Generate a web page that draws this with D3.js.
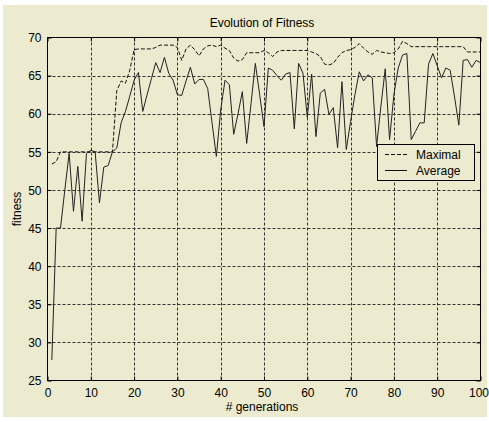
<!DOCTYPE html>
<html>
<head>
<meta charset="utf-8">
<script src="https://cdn.jsdelivr.net/npm/d3@7"></script>
<style>
  body { margin: 0; background: #fff; }
  text { font-family: "Liberation Sans", Arial, sans-serif; fill: #000; }
</style>
</head>
<body>
<svg id="chart" width="489" height="422"></svg>
<script>
// data
const generations = d3.range(1, 101);
const maximal = [
  53.4, 53.7, 55, 55, 55, 55, 55, 55, 55, 55,
  55, 55, 55, 55, 55, 63, 64.3, 64, 65.7, 68.4,
  68.5, 68.5, 68.5, 68.5, 68.7, 69, 69, 69, 69, 68.7,
  67, 68.5, 69, 68.4, 67.6, 68.5, 68.9, 69, 68.8, 69,
  68.6, 68.3, 67.3, 66.9, 67.1, 68, 68, 68, 68, 68.3,
  68, 67.5, 68.1, 68.3, 68.3, 68.3, 68.3, 68.3, 68.3, 68.3,
  68.1, 67.9, 67.5, 66.5, 66.4, 66.6, 67.4, 68, 68.3, 68.4,
  68.7, 69.2, 68.6, 68.1, 67.8, 68.3, 68.1, 68, 67.9, 68,
  68.5, 69.5, 69.2, 68.8, 68.8, 68.8, 68.8, 68.8, 68.8, 68.8,
  68.8, 68.8, 68.8, 68.8, 68.8, 68.8, 68.1, 68.1, 68.1, 68.1
];
const average = [
  27.7, 45, 45, 50, 54.8, 47.2, 53.1, 45.9, 54.8, 55.2,
  55, 48.3, 53, 53.2, 55, 55.5, 58.8, 60.3, 62.3, 64.4,
  65.4, 60.3, 62.5, 64.6, 66.7, 65.4, 67.4, 65.3, 64.4, 62.5,
  62.4, 64.3, 66.1, 63.9, 64.5, 64.5, 63.3, 58.8, 54.4, 60.5,
  64.4, 63.8, 57.3, 60, 62.9, 56.1, 61.3, 66.6, 62.5, 58.3,
  66, 65.7, 65, 64.4, 65.2, 65.4, 58, 66.6, 65.3, 59.5,
  65.2, 57, 62.7, 63.2, 59.9, 60.8, 55.5, 64.2, 55.3, 59,
  62.5, 65.5, 64.3, 65.1, 64.7, 55.7, 61, 65.9, 56.6, 62.5,
  66, 67.7, 67.9, 56.6, 57.7, 58.8, 58.8, 66.5, 67.9, 66.3,
  64.7, 66, 65.7, 62.2, 58.5, 67, 67.1, 66.1, 67, 66.7
];
const xTicks = [0, 10, 20, 30, 40, 50, 60, 70, 80, 90, 100];
const yTicks = [25, 30, 35, 40, 45, 50, 55, 60, 65, 70];
const seriesNames = ["Maximal", "Average"];

const bg = "#ecebcf";
const svg = d3.select("#chart");

// figure background
svg.append("rect").attr("x", 3).attr("y", 5).attr("width", 484).attr("height", 412).attr("fill", bg);

const pLeft = 47.5, pRight = 480.5, pTop = 37.5, pBottom = 380.5;
const x = d3.scaleLinear().domain([0, 100]).range([pLeft, pRight]);
const y = d3.scaleLinear().domain([25, 70]).range([pBottom, pTop]);

// grid
const grid = svg.append("g").attr("stroke", "#333").attr("stroke-width", 1).attr("stroke-dasharray", "3,2");
grid.selectAll(".gx").data(xTicks.slice(1, -1)).join("line")
  .attr("x1", d => Math.round(x(d)) + 0.5).attr("x2", d => Math.round(x(d)) + 0.5)
  .attr("y1", pTop).attr("y2", pBottom);
grid.selectAll(".gy").data(yTicks.slice(1, -1)).join("line")
  .attr("y1", d => Math.round(y(d)) + 0.5).attr("y2", d => Math.round(y(d)) + 0.5)
  .attr("x1", pLeft).attr("x2", pRight);

// axes (ticks inside, like the original)
const xAxis = svg.append("g").attr("transform", `translate(0,${pBottom})`)
  .call(d3.axisBottom(x).tickValues(xTicks).tickSize(-4).tickPadding(8));
const yAxis = svg.append("g").attr("transform", `translate(${pLeft},0)`)
  .call(d3.axisLeft(y).tickValues(yTicks).tickSize(-4).tickPadding(6));
svg.append("g").attr("transform", `translate(0,${pTop})`)
  .call(d3.axisTop(x).tickValues(xTicks).tickSize(-4).tickFormat(""));
svg.append("g").attr("transform", `translate(${pRight},0)`)
  .call(d3.axisRight(y).tickValues(yTicks).tickSize(-4).tickFormat(""));
svg.selectAll(".domain").remove();
svg.selectAll(".tick text").attr("font-size", 12).attr("font-family", "Liberation Sans, Arial, sans-serif").attr("fill", "#000");
yAxis.selectAll(".tick text").attr("dy", "0.35em");
// keep the last x label inside the window
xAxis.selectAll(".tick text").filter(d => d === 100).attr("dx", -2);

// box
svg.append("rect").attr("x", pLeft).attr("y", pTop).attr("width", pRight - pLeft).attr("height", pBottom - pTop)
  .attr("fill", "none").attr("stroke", "#000");

// lines
const line = vals => d3.line().x((d, i) => x(generations[i])).y(d => y(d))(vals);
svg.append("path").attr("d", line(maximal)).attr("fill", "none")
  .attr("stroke", "#111").attr("stroke-width", 1).attr("stroke-dasharray", "4,2");
svg.append("path").attr("d", line(average)).attr("fill", "none")
  .attr("stroke", "#222").attr("stroke-width", 1);

// title and labels
svg.append("text").attr("x", 262).attr("y", 27).attr("text-anchor", "middle").attr("font-size", 12)
  .text("Evolution of Fitness");
svg.append("text").attr("x", 262).attr("y", 411).attr("text-anchor", "middle").attr("font-size", 12)
  .text("# generations");
svg.append("text").attr("transform", "translate(21,209) rotate(-90)").attr("text-anchor", "middle").attr("font-size", 12)
  .text("fitness");

// legend
const lg = svg.append("g");
lg.append("rect").attr("x", 377.5).attr("y", 144.5).attr("width", 97).attr("height", 36)
  .attr("fill", bg).attr("stroke", "#000");
seriesNames.forEach((name, i) => {
  const ly = 154.5 + i * 16;
  lg.append("line").attr("x1", 385).attr("x2", 407).attr("y1", ly).attr("y2", ly)
    .attr("stroke", "#111").attr("stroke-dasharray", i === 0 ? "4,2" : null);
  lg.append("text").attr("x", 416).attr("y", ly + 4.5).attr("font-size", 12).text(name);
});
</script>
</body>
</html>
